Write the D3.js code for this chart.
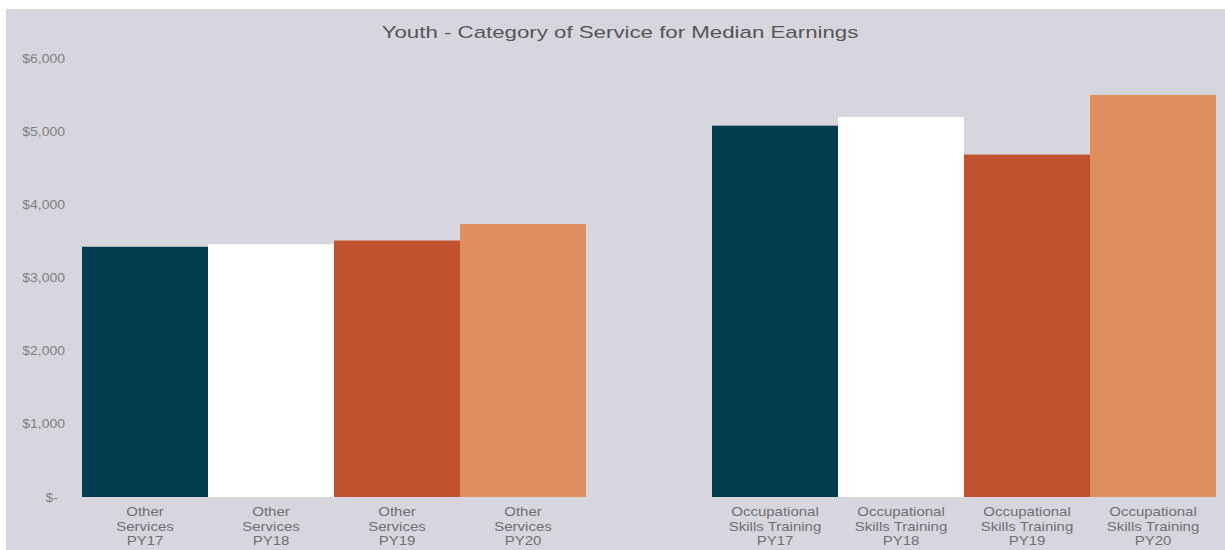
<!DOCTYPE html>
<html>
<head>
<meta charset="utf-8">
<script src="https://cdn.jsdelivr.net/npm/d3@7"></script>
<style>
  html, body { margin: 0; padding: 0; background: #ffffff; }
  svg { display: block; font-family: "Liberation Sans", Arial, sans-serif; }
</style>
</head>
<body>
<svg id="chart" width="1225" height="550"></svg>
<script>
// Median earnings by category of service and program year
const title = "Youth - Category of Service for Median Earnings";
const years = ["PY17", "PY18", "PY19", "PY20"];
const otherServicesLines = ["Other", "Services"];
const occupationalLines = ["Occupational", "Skills Training"];
const otherServices = [3420, 3455, 3505, 3730];
const occupationalSkills = [5075, 5195, 4680, 5495];
const yTicks = [0, 1000, 2000, 3000, 4000, 5000, 6000];
const yearColors = ["#023e50", "#ffffff", "#c1522f", "#de8f5d"];

const bars = [
  ...years.map((yr, i) => ({ key: "Other Services " + yr, lines: [...otherServicesLines, yr], value: otherServices[i], color: yearColors[i] })),
  ...years.map((yr, i) => ({ key: "Occupational Skills Training " + yr, lines: [...occupationalLines, yr], value: occupationalSkills[i], color: yearColors[i] }))
];
// one empty slot separates the two service groups
const slots = [...bars.slice(0, 4).map(d => d.key), "gap", ...bars.slice(4).map(d => d.key)];

const W = 1225, H = 550;
const svg = d3.select("#chart");

// panel background
svg.append("rect").attr("x", 6).attr("y", 9).attr("width", W - 6).attr("height", H - 9).attr("fill", "#d7d6df");

const x = d3.scaleBand().domain(slots).range([82, 1216]).padding(0);
const y = d3.scaleLinear().domain([0, 6000]).range([497, 58]);

const stretch = 1.2;
const yStretch = 1.12;

// title
svg.append("g").attr("transform", "translate(620,37.5)")
  .append("text")
  .attr("text-anchor", "middle")
  .attr("transform", "scale(1.31,1)")
  .attr("font-size", 17)
  .attr("fill", "#555555")
  .text(title);

// bars
svg.append("g").selectAll("rect").data(bars).join("rect")
  .attr("x", d => x(d.key))
  .attr("y", d => y(d.value))
  .attr("width", x.bandwidth())
  .attr("height", d => y(0) - y(d.value))
  .attr("fill", d => d.color);

// y axis
const yAxis = svg.append("g").attr("transform", "translate(65,0)")
  .call(d3.axisLeft(y).tickValues(yTicks).tickSize(0).tickPadding(0)
    .tickFormat(d => d === 0 ? "$-" : d3.format("$,")(d)));
yAxis.select(".domain").remove();
yAxis.selectAll("text")
  .attr("x", d => d === 0 ? -7 / yStretch : 0)
  .attr("transform", `scale(${yStretch},1)`)
  .attr("font-size", 12.5)
  .attr("font-family", "Liberation Sans, Arial, sans-serif")
  .attr("fill", "#7f7f7f");

// category labels
const labels = svg.append("g").selectAll("g").data(bars).join("g")
  .attr("transform", d => `translate(${x(d.key) + x.bandwidth() / 2},0)`);
labels.append("text")
  .attr("text-anchor", "middle")
  .attr("transform", `scale(${stretch},1)`)
  .attr("font-size", 12.5)
  .attr("fill", "#6f6f6f")
  .selectAll("tspan").data(d => d.lines).join("tspan")
  .attr("x", 0)
  .attr("y", (d, i) => 516.5 + i * 14.5)
  .text(d => d);
</script>
</body>
</html>
